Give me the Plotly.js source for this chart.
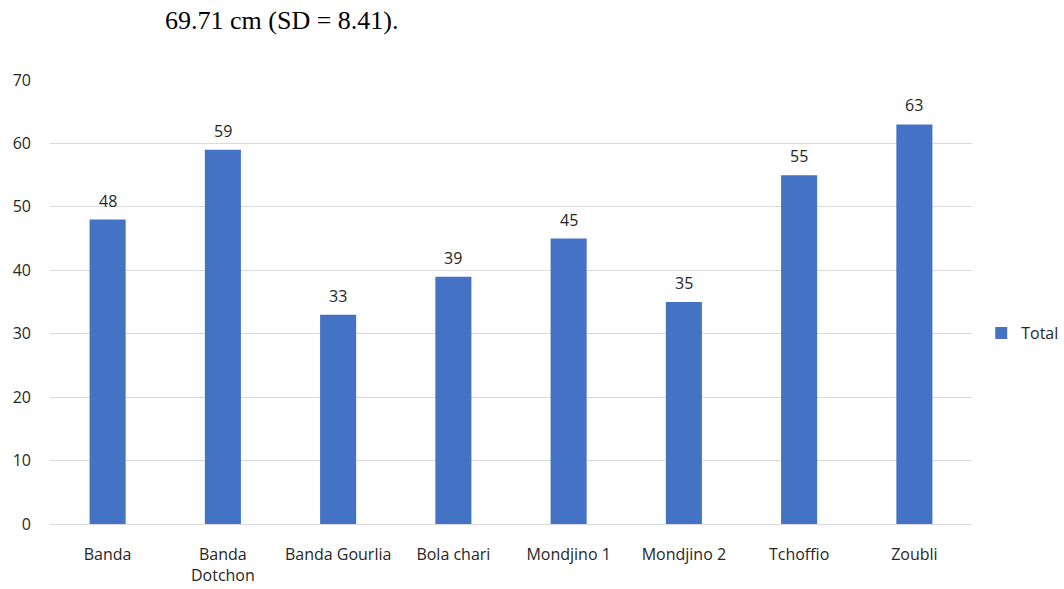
<!DOCTYPE html>
<html>
<head>
<meta charset="utf-8">
<script src="https://cdn.plot.ly/plotly-3.0.1.min.js"></script>
<style>
  html, body { margin: 0; padding: 0; background: #ffffff; }
  #chart { width: 1064px; height: 589px; }
</style>
</head>
<body>
<div id="chart"></div>
<script>
// Villages and their totals
const categories = ['Banda', 'Banda<br>Dotchon', 'Banda Gourlia', 'Bola chari', 'Mondjino 1', 'Mondjino 2', 'Tchoffio', 'Zoubli'];
const totals = [48, 59, 33, 39, 45, 35, 55, 63];
const seriesName = 'Total';
const yTicks = [0, 10, 20, 30, 40, 50, 60, 70];
const headerText = '69.71 cm (SD = 8.41).';

const textColor = '#262626';
const baseFont = { family: 'Open Sans, sans-serif', size: 16, color: textColor };

const trace = {
  type: 'bar',
  x: categories,
  y: totals,
  name: seriesName,
  marker: { color: '#4472C4' },
  hoverinfo: 'x+y'
};

// Value labels sitting just above each bar
const valueLabels = categories.map((c, i) => ({
  x: c, y: totals[i],
  xref: 'x', yref: 'y',
  text: String(totals[i]),
  showarrow: false,
  xanchor: 'center', yanchor: 'bottom',
  yshift: 6,
  font: baseFont
}));

const layout = {
  width: 1064,
  height: 589,
  margin: { l: 50, r: 92, t: 80, b: 65, autoexpand: false },
  paper_bgcolor: '#ffffff',
  plot_bgcolor: '#ffffff',
  font: baseFont,
  bargap: 0.687,
  showlegend: true,
  legend: {
    x: 1.01, y: 0.43, xanchor: 'left', yanchor: 'middle',
    font: baseFont,
    itemwidth: 30,
    bgcolor: 'rgba(0,0,0,0)'
  },
  xaxis: {
    showgrid: false,
    showline: true,
    linecolor: '#d9d9d9',
    linewidth: 1,
    ticks: '',
    ticklabelstandoff: 16,
    tickfont: baseFont,
    zeroline: false
  },
  yaxis: {
    range: [0, 70],
    tickvals: yTicks,
    ticktext: yTicks.map(String),
    showgrid: true,
    gridcolor: '#d9d9d9',
    gridwidth: 1,
    zeroline: false,
    showline: false,
    ticks: '',
    ticklabelstandoff: 18,
    tickfont: baseFont
  },
  annotations: valueLabels.concat([{
    text: headerText,
    xref: 'paper', yref: 'paper',
    x: (163 - 50) / 922, y: 1,
    xanchor: 'left', yanchor: 'middle',
    yshift: 60,
    showarrow: false,
    font: { family: 'Liberation Serif, serif', size: 26, color: '#000000' }
  }])
};

Plotly.newPlot('chart', [trace], layout, { displayModeBar: false, staticPlot: true });
</script>
</body>
</html>
